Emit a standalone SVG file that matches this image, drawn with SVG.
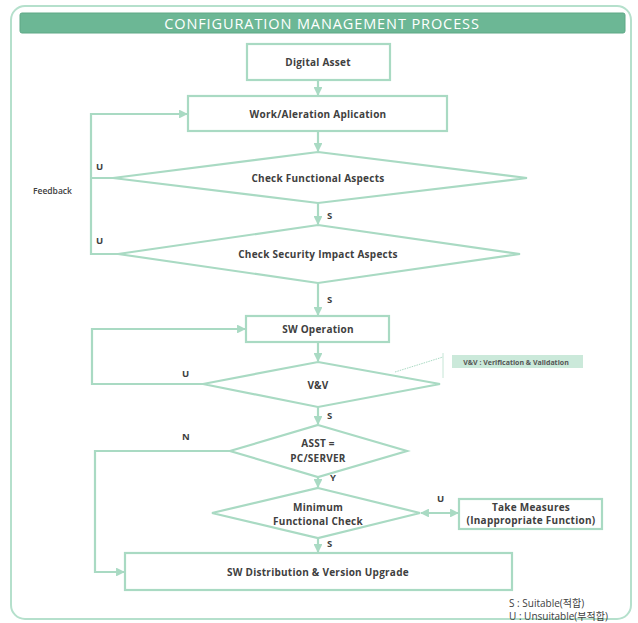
<svg xmlns="http://www.w3.org/2000/svg" width="638" height="623" viewBox="0 0 638 623">
  <style>
    .frame { fill: #ffffff; stroke: #b5e0cc; stroke-width: 2; }
    .node { fill: #ffffff; stroke: #a9dac3; stroke-width: 2.2; }
    .lbl { font-family: "Open Sans", "Liberation Sans", sans-serif; font-weight: bold; font-size: 10px; letter-spacing: 0.25px; fill: #404040; text-anchor: middle; }
    .tag { font-family: "Open Sans", "Liberation Sans", sans-serif; font-weight: bold; font-size: 9.5px; fill: #404040; }
    .link { fill: none; stroke: #a9dac3; stroke-width: 2.2; }
    .legend { font-family: "Open Sans", "Liberation Sans", "Noto Sans CJK KR", sans-serif; font-size: 10px; fill: #404040; }
  </style>
  <defs>
    <marker id="arr" viewBox="0 0 10 10" refX="9" refY="5" markerWidth="4" markerHeight="4" orient="auto-start-reverse">
      <path d="M0,0 L10,5 L0,10 z" fill="#a9dac3"/>
    </marker>
  </defs>

  <rect width="638" height="623" fill="#ffffff"/>
  <!-- outer frame and title bar -->
  <rect class="frame" x="11" y="6" width="620" height="613" rx="14"/>
  <g id="title">
    <rect x="20" y="13" width="605" height="20" rx="2" fill="#6cb795" stroke="#5ea886" stroke-width="1"/>
    <text x="322" y="28.5" font-family="Open Sans, Liberation Sans, sans-serif" font-size="14.5" letter-spacing="0.9" fill="#ffffff" text-anchor="middle">CONFIGURATION MANAGEMENT PROCESS</text>
  </g>

  <!-- connectors -->
  <g id="connectors">
    <path class="link" d="M318,80 V95" marker-end="url(#arr)"/>
    <path class="link" d="M318,131 V151" marker-end="url(#arr)"/>
    <path class="link" d="M318,203 V224" marker-end="url(#arr)"/>
    <path class="link" d="M113,178 H91 M118,254 H91 V114 H187" marker-end="url(#arr)"/>
    <path class="link" d="M318,283 V315" marker-end="url(#arr)"/>
    <path class="link" d="M318,342 V361" marker-end="url(#arr)"/>
    <path class="link" d="M203,384 H92 V329 H245" marker-end="url(#arr)"/>
    <path class="link" d="M318,407 V424" marker-end="url(#arr)"/>
    <path class="link" d="M230,451 H95 V572 H124" marker-end="url(#arr)"/>
    <path class="link" d="M318,477 V487" marker-end="url(#arr)"/>
    <path class="link" d="M318,538 V552" marker-end="url(#arr)"/>
    <path class="link" d="M421,513 H458" marker-start="url(#arr)" marker-end="url(#arr)"/>
    <!-- callout for the V&V note -->
    <path d="M395,372 L443,357" fill="none" stroke="#a9dac3" stroke-width="1" stroke-dasharray="1.5,1"/>
    <path d="M443,353 V378" fill="none" stroke="#c6e6d6" stroke-width="1"/>
  </g>

  <g id="digital-asset">
    <rect class="node" x="247" y="44" width="143" height="36"/>
    <text class="lbl" x="318" y="65.5">Digital Asset</text>
  </g>
  <g id="work-application">
    <rect class="node" x="188" y="96" width="259" height="35"/>
    <text class="lbl" x="318" y="117.5">Work/Aleration Aplication</text>
  </g>
  <g id="check-functional">
    <polygon class="node" points="318,152 527,178 318,203 113,178"/>
    <text class="lbl" x="318" y="181.5">Check Functional Aspects</text>
  </g>
  <g id="check-security">
    <polygon class="node" points="318,225 520,254 318,283 118,254"/>
    <text class="lbl" x="318" y="257.5">Check Security Impact Aspects</text>
  </g>
  <g id="sw-operation">
    <rect class="node" x="246" y="316" width="143" height="26"/>
    <text class="lbl" x="318" y="332.5">SW Operation</text>
  </g>
  <g id="vv">
    <polygon class="node" points="318,362 440,384 318,407 203,384"/>
    <text class="lbl" x="318" y="388.5">V&amp;V</text>
  </g>
  <g id="vv-note">
    <rect x="452" y="355" width="131" height="13" fill="#cbe9da"/>
    <text x="516" y="364.5" font-family="Open Sans, Liberation Sans, sans-serif" font-size="7" font-weight="bold" fill="#555" text-anchor="middle">V&amp;V : Verification &amp; Validation</text>
  </g>
  <g id="asset-type">
    <polygon class="node" points="318,425 407,451 318,477 230,451"/>
    <text class="lbl" x="318" y="446.5">ASST =</text>
    <text class="lbl" x="318" y="461.5">PC/SERVER</text>
  </g>
  <g id="min-check">
    <polygon class="node" points="318,488 420,513 318,538 212,513"/>
    <text class="lbl" x="318" y="510.5">Minimum</text>
    <text class="lbl" x="318" y="524.5">Functional Check</text>
  </g>
  <g id="take-measures">
    <rect class="node" x="459" y="499" width="143" height="30"/>
    <text class="lbl" x="531" y="511">Take Measures</text>
    <text class="lbl" x="531" y="523.5">(Inappropriate Function)</text>
  </g>
  <g id="sw-distribution">
    <rect class="node" x="125" y="553" width="387" height="37"/>
    <text class="lbl" x="318" y="575.5">SW Distribution &amp; Version Upgrade</text>
  </g>

  <!-- branch labels -->
  <text class="tag" x="96" y="170">U</text>
  <text class="tag" x="96" y="244">U</text>
  <text x="33" y="194" font-family="Open Sans, Liberation Sans, sans-serif" font-weight="600" font-size="8.5" fill="#404040">Feedback</text>
  <text class="tag" x="327" y="219">S</text>
  <text class="tag" x="327" y="303">S</text>
  <text class="tag" x="182" y="377">U</text>
  <text class="tag" x="327" y="419">S</text>
  <text class="tag" x="182" y="440">N</text>
  <text class="tag" x="330" y="481">Y</text>
  <text class="tag" x="437" y="502">U</text>
  <text class="tag" x="327" y="547">S</text>

  <text class="legend" x="509" y="607">S : Suitable(적합)</text>
  <text class="legend" x="509" y="620">U : Unsuitable(부적합)</text>
</svg>
